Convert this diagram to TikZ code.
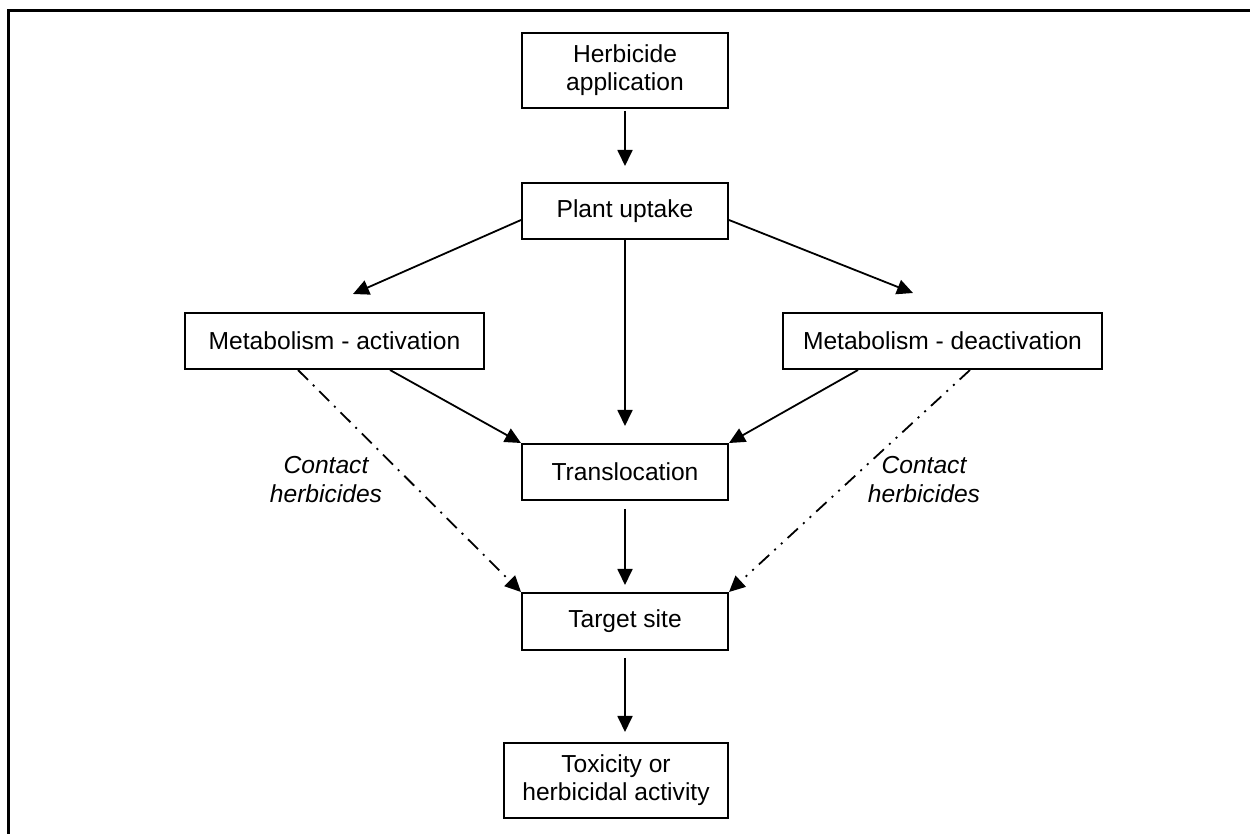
\documentclass[tikz,border=0pt]{standalone}
\usepackage{fontspec}
\setmainfont{Liberation Sans}
\usetikzlibrary{%
  arrows.meta,%
  calc
}

\begin{document}
\begin{tikzpicture}[x=0.5pt,y=-0.5pt,
    box/.style={draw,line width=1pt,inner sep=0pt,align=center,minimum width=103pt,minimum height=28pt,font=\fontsize{12.3}{14}\selectfont},
    arr/.style={line width=0.9pt,-{Triangle[length=8pt,width=7.5pt]}},
    dashdot/.style={arr,dash pattern=on 7pt off 3.5pt on 1pt off 3.5pt},
    dashdotdot/.style={arr,dash pattern=on 7pt off 3.5pt on 1pt off 3.5pt on 1pt off 3.5pt},
    contact/.style={align=center,inner sep=0pt,font=\fontsize{12.3}{14.5}\selectfont\itshape}]
      \useasboundingbox (0,0) rectangle (1250,834);
      \draw [line width=1.5pt] (1250,10.5) -- (8.5,10.5) -- (8.5,834);
      \node [box,minimum height=37.5pt] (app) at (625,70.5) {Herbicide\\application};
      \node [box] (upt) at (625,211) {Plant uptake};
      \node [box,minimum width=149.5pt] (act) at (334.5,341) {Metabolism - activation};
      \node [box,minimum width=159.5pt] (deact) at (942.5,341) {Metabolism - deactivation};
      \node [box] (trans) at (625,472) {Translocation};
      \node [box,minimum height=28.5pt] (target) at (625,621.5) {Target site};
      \node [box,minimum width=112pt,minimum height=37.5pt] (tox) at (616,780.5) {Toxicity or\\herbicidal activity};
      \node [contact] (contactA) at (326,480) {Contact\\herbicides};
      \node [contact] (contactD) at (924,480) {Contact\\herbicides};
      % main path
      \draw [arr,shorten <=1pt,shorten >=8pt] (app) -- (upt);
      \draw [arr,shorten >=8.5pt] (upt) -- (trans);
      \draw [arr,shorten <=4pt,shorten >=3.5pt] (trans) -- (target);
      \draw [arr,shorten <=3.5pt,shorten >=5pt] (target) -- (target |- tox.north);
      % metabolism
      \draw [arr] ($(upt.west)+(0,9)$) -- ($(act.north)+(18.5,-18)$);
      \draw [arr] ($(upt.east)+(0,9)$) -- ($(deact.north)+(-29.5,-19)$);
      \draw [arr] ($(act.south)+(55.5,0)$) -- (trans.north west);
      \draw [arr] ($(deact.south)+(-84.5,0)$) -- (trans.north east);
      % contact herbicides
      \draw [dashdot] ($(act.south)+(-36.5,0)$) -- (target.north west);
      \draw [dashdotdot] ($(deact.south)+(27.5,0)$) -- (target.north east);
    \end{tikzpicture}
\end{document}
